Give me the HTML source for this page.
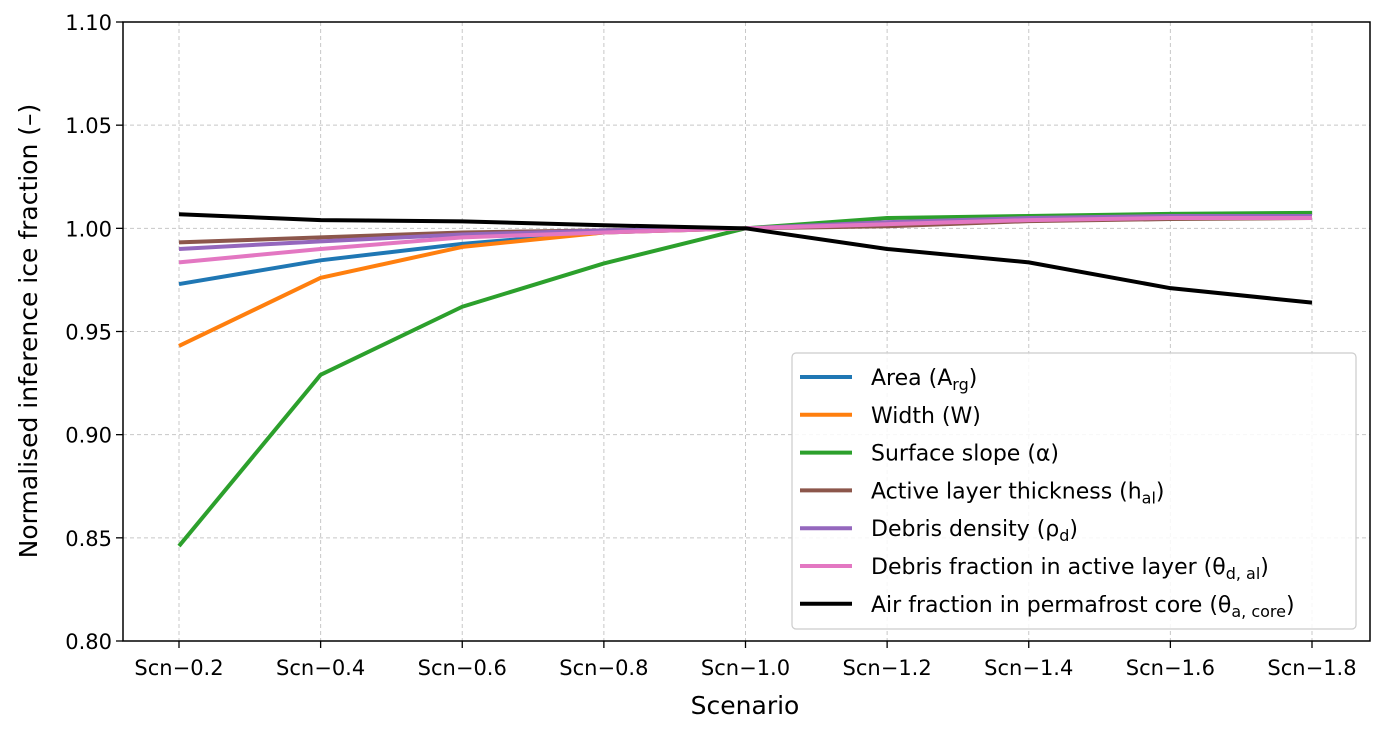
<!DOCTYPE html>
<html><head><meta charset="utf-8"><style>
html,body{margin:0;padding:0;background:#fff;}
svg{display:block;font-family:"DejaVu Sans","Liberation Sans",sans-serif;}
</style></head><body>
<svg id="chart" width="1384" height="729">
<g id="grid"></g>
<g id="series"></g>
<rect x="123" y="22" width="1247" height="619" fill="none" stroke="#000" stroke-width="1.5"/>
<g id="axes"></g>
<text x="745" y="714" font-size="25" text-anchor="middle">Scenario</text>
<text transform="translate(37,331) rotate(-90)" font-size="25" text-anchor="middle">Normalised inference ice fraction (–)</text>
<g id="legend"></g>
</svg>
<script>
const categories = ["Scn−0.2","Scn−0.4","Scn−0.6","Scn−0.8","Scn−1.0","Scn−1.2","Scn−1.4","Scn−1.6","Scn−1.8"];
const yTicks = [0.80,0.85,0.90,0.95,1.00,1.05,1.10];
const seriesNames = ["Area (A<tspan font-size='16' dy='5'>rg</tspan><tspan dy='-5'>)</tspan>","Width (W)","Surface slope (α)","Active layer thickness (h<tspan font-size='16' dy='5'>al</tspan><tspan dy='-5'>)</tspan>","Debris density (ρ<tspan font-size='16' dy='5'>d</tspan><tspan dy='-5'>)</tspan>","Debris fraction in active layer (θ<tspan font-size='16' dy='5'>d, al</tspan><tspan dy='-5'>)</tspan>","Air fraction in permafrost core (θ<tspan font-size='16' dy='5'>a, core</tspan><tspan dy='-5'>)</tspan>"];
const seriesColors = ["#1f77b4","#ff7f0e","#2ca02c","#8c564b","#9467bd","#e377c2","#000000"];
const areaVals = [0.973,0.9845,0.9925,0.998,1.0,1.002,1.004,1.005,1.006];
const widthVals = [0.943,0.976,0.991,0.998,1.0,1.002,1.004,1.005,1.006];
const slopeVals = [0.846,0.929,0.962,0.983,1.0,1.005,1.006,1.007,1.0075];
const alVals = [0.9932,0.9956,0.998,0.999,1.0,1.001,1.0035,1.0045,1.005];
const densVals = [0.990,0.9937,0.997,0.999,1.0,1.003,1.005,1.006,1.006];
const debfVals = [0.9835,0.990,0.9956,0.998,1.0,1.002,1.004,1.005,1.005];
const airVals = [1.0068,1.004,1.0034,1.0015,1.0,0.990,0.9835,0.971,0.964];
const allSeries = [areaVals,widthVals,slopeVals,alVals,densVals,debfVals,airVals];

const NS="http://www.w3.org/2000/svg";
const x0=123,x1=1370,y0=22,y1=641;
const xPos=i=>179+i*(1312-179)/(categories.length-1);
const yPos=v=>y1-(v-0.80)/(0.30)*(y1-y0);
function mk(t,a,p){const e=document.createElementNS(NS,t);for(const k in a)e.setAttribute(k,a[k]);p.appendChild(e);return e;}
const grid=document.getElementById('grid'),axes=document.getElementById('axes');
categories.forEach((c,i)=>{
  const x=xPos(i);
  const g=mk('line',{x1:x,x2:x,y1:y0,y2:y1,stroke:'#c8c8c8','stroke-dasharray':'4,3','stroke-width':1},grid);
  
  
  const t=mk('line',{x1:x,x2:x,y1:y1,y2:y1+7,stroke:'#000','stroke-width':1.3},axes);
  
  
  const l=mk('text',{x:x,y:y1+34,'font-size':21,'text-anchor':'middle'},axes);
  l.textContent=c;
  
  
});
yTicks.forEach(v=>{
  const y=yPos(v);
  const g=mk('line',{x1:x0,x2:x1,y1:y,y2:y,stroke:'#c8c8c8','stroke-dasharray':'4,3','stroke-width':1},grid);
  
  
  const t=mk('line',{x1:x0-7,x2:x0,y1:y,y2:y,stroke:'#000','stroke-width':1.3},axes);
  
  
  const l=mk('text',{x:x0-11,y:y+8,'font-size':21,'text-anchor':'end'},axes);
  l.textContent=v.toFixed(2);
  
  
});
const sg=document.getElementById('series');
allSeries.forEach((vals,s)=>{
  const p=mk('polyline',{points:vals.map((v,i)=>xPos(i)+','+yPos(v)).join(' '),fill:'none',stroke:seriesColors[s],'stroke-width':4,'stroke-linejoin':'round'},sg);
  
  
});
const lg=document.getElementById('legend');
const box=mk('rect',{x:792,y:353,width:564,height:276,rx:4,fill:'#fff','fill-opacity':0.85,stroke:'#ccc','stroke-width':1.2},lg);


seriesNames.forEach((n,s)=>{
  const y=377+s*37.8;
  const l=mk('line',{x1:800,x2:852,y1:y,y2:y,stroke:seriesColors[s],'stroke-width':4},lg);
  
  
  const t=mk('text',{x:871,y:y+8,'font-size':22},lg);
  t.innerHTML=n;
  
  
});
</script>
</body></html>
